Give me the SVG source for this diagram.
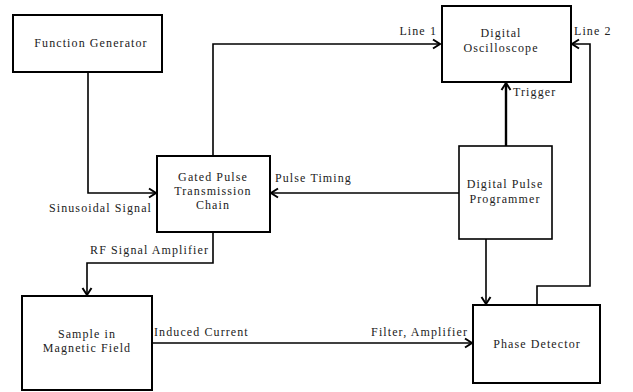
<svg xmlns="http://www.w3.org/2000/svg" width="633" height="392" viewBox="0 0 633 392" font-family="'Liberation Serif', 'Times New Roman', serif" font-size="12" letter-spacing="1.1">
<defs>
<marker id="arr" markerUnits="userSpaceOnUse" markerWidth="12" markerHeight="12" refX="8" refY="5" orient="auto" overflow="visible">
<path d="M1,0.5 L8,5 L1,9.5" fill="none" stroke="#000" stroke-width="2"/>
</marker>
<style>
.box{fill:#fff;stroke:#000;stroke-width:2}
.ln{fill:none;stroke:#000;stroke-width:1.6}
text{fill:#222}
.c{text-anchor:middle}
</style>
</defs>
<rect width="633" height="392" fill="#fff"/>
<g id="connectors">
<polyline class="ln" points="88,72 88,193 156,193" marker-end="url(#arr)"/>
<polyline class="ln" points="213,156 213,44 440,44" marker-end="url(#arr)"/>
<polyline class="ln" points="459,193 271,193" marker-end="url(#arr)"/>
<polyline class="ln" points="506,146 506,83" style="stroke-width:2.4" marker-end="url(#arr)"/>
<polyline class="ln" points="537,304 537,286 590,286 590,44 572,44" marker-end="url(#arr)"/>
<polyline class="ln" points="213,232 213,263 87,263 87,295" marker-end="url(#arr)"/>
<polyline class="ln" points="152,343 472,343" marker-end="url(#arr)"/>
<polyline class="ln" points="486,239 486,304" marker-end="url(#arr)"/>
<text x="437" y="35" text-anchor="end">Line 1</text>
<text x="574" y="35">Line 2</text>
<text x="513" y="96">Trigger</text>
<text x="275" y="182">Pulse Timing</text>
<text x="152" y="212" text-anchor="end">Sinusoidal Signal</text>
<text x="209" y="254" text-anchor="end">RF Signal Amplifier</text>
<text x="154" y="336">Induced Current</text>
<text x="468" y="336" text-anchor="end">Filter, Amplifier</text>
</g>
<g id="function-generator">
<rect class="box" x="13" y="15" width="149" height="57"/>
<text class="c" x="91" y="47">Function Generator</text>
</g>
<g id="gated-pulse">
<rect class="box" x="157" y="156" width="113" height="76"/>
<text class="c" x="213" y="181">Gated Pulse</text>
<text class="c" x="213" y="195">Transmission</text>
<text class="c" x="213" y="209">Chain</text>
</g>
<g id="digital-oscilloscope">
<rect class="box" x="442" y="6" width="129" height="76"/>
<text class="c" x="501" y="37">Digital</text>
<text class="c" x="501" y="52">Oscilloscope</text>
</g>
<g id="digital-pulse-programmer">
<rect class="box" x="459" y="146" width="93" height="93" style="stroke-width:1.6"/>
<text class="c" x="505" y="188">Digital Pulse</text>
<text class="c" x="505" y="203">Programmer</text>
</g>
<g id="sample">
<rect class="box" x="22" y="296" width="130" height="94"/>
<text class="c" x="87" y="338">Sample in</text>
<text class="c" x="87" y="352">Magnetic Field</text>
</g>
<g id="phase-detector">
<rect class="box" x="473" y="305" width="127" height="78"/>
<text class="c" x="537" y="348">Phase Detector</text>
</g>
</svg>
